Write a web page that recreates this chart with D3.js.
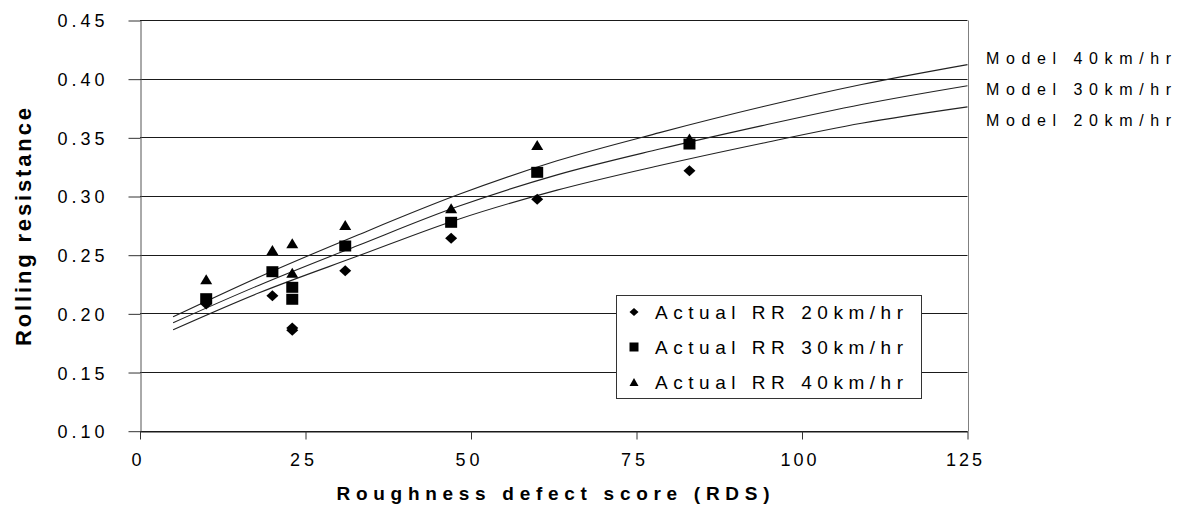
<!DOCTYPE html>
<html>
<head>
<meta charset="utf-8">
<script src="https://cdn.jsdelivr.net/npm/d3@7"></script>
<style>
  body { margin: 0; background: #fff; }
  svg { display: block; font-family: "Liberation Sans", Arial, sans-serif; }
</style>
</head>
<body>
<svg id="chart" width="1177" height="507"></svg>
<script>
// measured data
var xTicks = [0, 25, 50, 75, 100, 125];
var yTicks = [0.10, 0.15, 0.20, 0.25, 0.30, 0.35, 0.40, 0.45];

var rdsActual = [10, 20, 23, 23, 31, 47, 60, 83];
var rr20 = [0.208, 0.215, 0.1875, 0.1855, 0.2364, 0.264, 0.2972, 0.3216];
var rr30 = [0.2125, 0.2355, 0.2222, 0.212, 0.2574, 0.2776, 0.3202, 0.3443];
var rr40 = [0.229, 0.254, 0.2597, 0.2347, 0.2753, 0.2895, 0.3435, 0.349];

var rdsModel = [5, 18, 33, 48, 63, 78.5, 94, 109, 125];
var model20 = [0.186, 0.2175, 0.249, 0.280, 0.305, 0.326, 0.345, 0.362, 0.376];
var model30 = [0.192, 0.224, 0.258, 0.291, 0.318, 0.340, 0.360, 0.378, 0.394];
var model40 = [0.197, 0.231, 0.267, 0.301, 0.330, 0.354, 0.376, 0.395, 0.412];

var actualLabels = ["Actual RR 20km/hr", "Actual RR 30km/hr", "Actual RR 40km/hr"];
var modelLabels = ["Model 40km/hr", "Model 30km/hr", "Model 20km/hr"];

var svg = d3.select("#chart");

var x = d3.scaleLinear().domain([0, 125]).range([140, 967.5]);
var y = d3.scaleLinear().domain([0.10, 0.45]).range([430.7, 20]);

// gridlines
svg.append("g").selectAll("line").data(yTicks).enter().append("line")
    .attr("x1", x(0)).attr("x2", x(125))
    .attr("y1", function(d){ return Math.round(y(d)) + 0.5; })
    .attr("y2", function(d){ return Math.round(y(d)) + 0.5; })
    .attr("stroke", "#1a1a1a").attr("stroke-width", 1);

// right border
svg.append("line")
    .attr("x1", Math.round(x(125)) + 0.5).attr("x2", Math.round(x(125)) + 0.5)
    .attr("y1", Math.round(y(0.45)) + 0.5).attr("y2", Math.round(y(0.10)) + 0.5)
    .attr("stroke", "#808080");

// y axis
var yAxis = d3.axisLeft(y).tickValues(yTicks).tickSize(12).tickSizeOuter(0)
    .tickFormat(d3.format(".2f"));
var gy = svg.append("g").attr("transform", "translate(" + (Math.round(x(0)) + 0.5) + ",0.5)").call(yAxis);
gy.select(".domain").attr("stroke", "#555");
gy.selectAll(".tick line").attr("stroke", "#333");
gy.selectAll(".tick text")
    .attr("x", -36).attr("dy", "0.36em")
    .attr("font-size", 18).attr("fill", "#000")
    .attr("textLength", 47).attr("lengthAdjust", "spacing")
    .attr("font-family", "Liberation Sans, Arial, sans-serif");

// x axis
var xAxis = d3.axisBottom(x).tickValues(xTicks).tickSize(8).tickSizeOuter(0);
var gx = svg.append("g").attr("transform", "translate(0," + (Math.round(y(0.10)) + 0.5) + ")").call(xAxis);
gx.select(".domain").attr("stroke", "#1a1a1a");
gx.selectAll(".tick line").attr("stroke", "#333");
gx.selectAll(".tick text")
    .attr("y", 34).attr("dy", 0).attr("dx", -4)
    .attr("font-size", 18).attr("fill", "#000")
    .attr("textLength", function(d){ return String(d).length * 12; })
    .attr("lengthAdjust", "spacing")
    .attr("font-family", "Liberation Sans, Arial, sans-serif");

// axis titles
svg.append("text")
    .attr("x", 553).attr("y", 500)
    .attr("text-anchor", "middle")
    .attr("font-size", 19).attr("font-weight", "bold")
    .attr("textLength", 433).attr("lengthAdjust", "spacing")
    .text("Roughness defect score (RDS)");

svg.append("text")
    .attr("transform", "translate(31,227) rotate(-90)")
    .attr("text-anchor", "middle")
    .attr("font-size", 22).attr("font-weight", "bold")
    .attr("textLength", 238).attr("lengthAdjust", "spacing")
    .text("Rolling resistance");

// model curves
var line = d3.line()
    .x(function(d){ return x(d[0]); })
    .y(function(d){ return y(d[1]); })
    .curve(d3.curveMonotoneX);

[model20, model30, model40].forEach(function(vals){
    svg.append("path")
        .datum(rdsModel.map(function(r, i){ return [r, vals[i]]; }))
        .attr("d", line)
        .attr("fill", "none")
        .attr("stroke", "#222")
        .attr("stroke-width", 1.1);
});

// marker shapes
function diamond(w, h){ return "M0," + (-h/2) + "L" + (w/2) + ",0L0," + (h/2) + "L" + (-w/2) + ",0Z"; }
function square(w, h){ return "M" + (-w/2) + "," + (-h/2) + "h" + w + "v" + h + "h" + (-w) + "Z"; }
function triangle(w, h){ return "M0," + (-h/2) + "L" + (w/2) + "," + (h/2) + "L" + (-w/2) + "," + (h/2) + "Z"; }

var markers = [diamond(12, 11), square(12, 11), triangle(12, 10)];
var legendMarkers = [diamond(9, 8), square(9, 9), triangle(9, 8)];

[rr20, rr30, rr40].forEach(function(vals, s){
    svg.append("g").selectAll("path").data(vals).enter().append("path")
        .attr("transform", function(d, i){ return "translate(" + x(rdsActual[i]) + "," + y(d) + ")"; })
        .attr("d", markers[s])
        .attr("fill", "#000");
});

// legend
var lg = svg.append("g");
lg.append("rect")
    .attr("x", 616.5).attr("y", 295.5).attr("width", 305).attr("height", 103)
    .attr("fill", "#fff").attr("stroke", "#333");
actualLabels.forEach(function(t, i){
    var cy = 312 + i * 35;
    lg.append("path").attr("transform", "translate(634," + cy + ")")
        .attr("d", legendMarkers[i]).attr("fill", "#000");
    lg.append("text").attr("x", 655).attr("y", cy + 6.5)
        .attr("font-size", 19)
        .attr("textLength", 248).attr("lengthAdjust", "spacing")
        .text(t);
});

// model labels
modelLabels.forEach(function(t, i){
    svg.append("text").attr("x", 986).attr("y", 64 + i * 31)
        .attr("font-size", 16)
        .attr("textLength", 185).attr("lengthAdjust", "spacing")
        .text(t);
});
</script>
</body>
</html>
